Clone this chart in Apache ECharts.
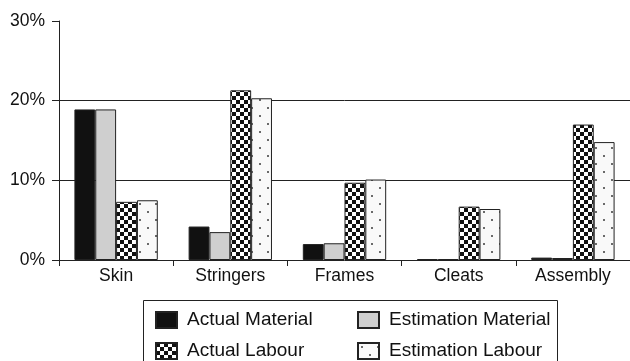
<!DOCTYPE html>
<html>
<head>
<meta charset="utf-8">
<script src="https://cdn.jsdelivr.net/npm/echarts@6/dist/echarts.min.js"></script>
<style>
  html, body { margin: 0; padding: 0; background: #fff; }
  #main { width: 630px; height: 361px; }
</style>
</head>
<body>
<div id="main"></div>
<script>
// values (percent)
const categories = ['Skin', 'Stringers', 'Frames', 'Cleats', 'Assembly'];
const actualMaterial = [18.9, 4.2, 2.0, 0.1, 0.3];
const estimationMaterial = [18.9, 3.5, 2.1, 0.1, 0.25];
const actualLabour = [7.3, 21.3, 9.7, 6.7, 17.0];
const estimationLabour = [7.5, 20.3, 10.1, 6.4, 14.8];
const yTicks = [0, 10, 20, 30];

const font = "'Liberation Sans', Arial, sans-serif";

function checker() {
  const c = document.createElement('canvas');
  c.width = 8; c.height = 8;
  const g = c.getContext('2d');
  g.fillStyle = '#fff';
  g.fillRect(0, 0, 8, 8);
  g.fillStyle = '#111';
  g.fillRect(0, 0, 4, 4);
  g.fillRect(4, 4, 4, 4);
  return { image: c, repeat: 'repeat' };
}

function dots() {
  const c = document.createElement('canvas');
  c.width = 16; c.height = 16;
  const g = c.getContext('2d');
  g.fillStyle = '#f9f9f9';
  g.fillRect(0, 0, 16, 16);
  g.fillStyle = '#6a6a6a';
  g.fillRect(3, 3, 2, 2);
  g.fillRect(11, 11, 2, 2);
  return { image: c, repeat: 'repeat' };
}

function bar(name, data, color) {
  return {
    name: name,
    type: 'bar',
    data: data,
    barGap: '0%',
    barCategoryGap: '27%',
    itemStyle: { color: color, borderColor: '#222', borderWidth: 1 },
    emphasis: { disabled: true }
  };
}

const legendText = { fontFamily: font, fontSize: 19, color: '#111', lineHeight: 20, padding: [0, 0, 0, 5] };

let chart = echarts.init(document.getElementById('main'));
chart.setOption({
  animation: false,
  grid: { left: 59, right: -3, top: 21, bottom: 101 },
  xAxis: {
    type: 'category',
    data: categories,
    axisLine: { lineStyle: { color: '#222', width: 1 } },
    axisTick: { show: true, length: 6, lineStyle: { color: '#222' } },
    axisLabel: { fontFamily: font, fontSize: 17.5, color: '#111', margin: 7 }
  },
  yAxis: {
    type: 'value',
    min: yTicks[0],
    max: yTicks[yTicks.length - 1],
    interval: 10,
    axisLine: { show: true, lineStyle: { color: '#222', width: 1 } },
    axisTick: { show: true, length: 7, lineStyle: { color: '#222' } },
    axisLabel: { fontFamily: font, fontSize: 17.5, color: '#111', margin: 14, formatter: '{value}%' },
    splitLine: { show: true, showMinLine: false, showMaxLine: false, lineStyle: { color: '#222', width: 1 } }
  },
  legend: [{
    data: ['Actual Material', 'Actual Labour'],
    orient: 'vertical',
    left: 155, top: 310,
    icon: 'rect',
    itemWidth: 21, itemHeight: 16, itemGap: 11,
    padding: 0,
    textStyle: legendText
  }, {
    data: ['Estimation Material', 'Estimation Labour'],
    orient: 'vertical',
    left: 357, top: 310,
    icon: 'rect',
    itemWidth: 21, itemHeight: 16, itemGap: 11,
    padding: 0,
    textStyle: legendText
  }],
  graphic: [{
    type: 'rect',
    shape: { x: 143.5, y: 300.5, width: 414, height: 70 },
    style: { fill: 'none', stroke: '#222', lineWidth: 1 },
    silent: true
  }],
  series: [
    bar('Actual Material', actualMaterial, '#111'),
    bar('Estimation Material', estimationMaterial, '#cfcfcf'),
    bar('Actual Labour', actualLabour, checker()),
    bar('Estimation Labour', estimationLabour, dots())
  ]
});
</script>
</body>
</html>
